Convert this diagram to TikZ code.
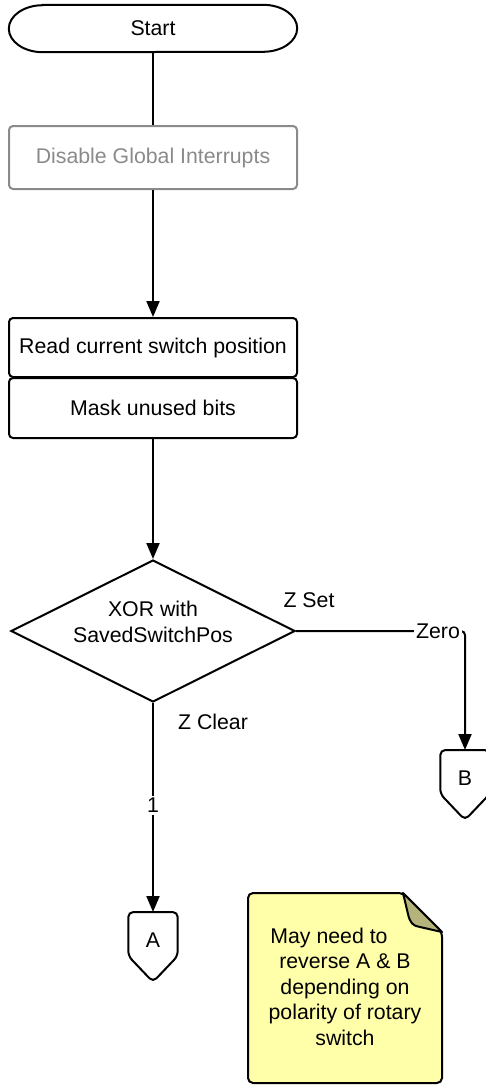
\documentclass[tikz,border=0pt]{standalone}
\usepackage{fontspec}
\setmainfont{Liberation Sans}
\usetikzlibrary{arrows.meta,shapes.geometric,calc}
\definecolor{notefill}{HTML}{FFFFAA}
\definecolor{foldfill}{HTML}{B4B37C}
\definecolor{mutedgray}{HTML}{8A8A8A}
\begin{document}
\begin{tikzpicture}[x=1pt,y=-1pt,
  every node/.style={font=\fontsize{21.3}{25.5}\selectfont},
  line/.style={line width=2pt, draw=black},
  arrow/.style={line, -{Triangle[length=16pt,width=13pt]}},
  procbox/.style={draw, line width=2pt, rounded corners=4pt, minimum width=288pt,
    inner sep=0pt},
  terminal/.style={minimum width=288pt, minimum height=47pt, inner sep=0pt},
  decision/.style={draw, line width=2pt, diamond, minimum width=284pt,
    minimum height=142pt, inner sep=0pt, align=center},
  connbox/.style={minimum width=49pt, minimum height=56pt, inner sep=0pt, anchor=north},
  edgelabel/.style={fill=white, inner sep=2pt}
]
\useasboundingbox (0,0) rectangle (485,1085);

% terminal with elliptical ends
\node[terminal] (start) at (153,28.5) {Start};
\draw[line]
  ($(start.north west)+(34,0)$) -- ($(start.north east)+(-34,0)$)
  arc[start angle=-90, end angle=90, x radius=34, y radius=23.5]
  -- ($(start.south west)+(34,0)$)
  arc[start angle=90, end angle=270, x radius=34, y radius=23.5] -- cycle;

% process steps
\node[procbox, draw=mutedgray, text=mutedgray, minimum height=63pt] (dis) at (153,157.5)
  {Disable Global Interrupts};
\node[procbox, minimum height=59pt] (read) at (153,347.5) {Read current switch position};
\node[procbox, minimum height=60pt] (mask) at (153,408) {Mask unused bits};
\node[decision] (xor) at (153,631) {};
\node (xortext) at (153,622) [align=center] {XOR with\\SavedSwitchPos};

% off-page connectors
\node[connbox] (A) at (153,912) {A};
\node[connbox] (B) at (465,750) {B};
\foreach \c in {A,B}{
  \draw[line, rounded corners=5pt]
    (\c.north west) -- (\c.north east) -- ($(\c.north east)+(0,44)$)
    -- ($(\c.north)+(0,70)$) -- ($(\c.north west)+(0,44)$) -- cycle;
}

% flow
\draw[line] (start.south) -- (dis.north);
\draw[arrow] (dis.south) -- (read.north);
\draw[arrow] (mask.south) -- (xor.north);
\draw[arrow, rounded corners=4pt] (xor.east) -| (B.north)
  node[edgelabel, pos=0.42] {Zero};
\draw[arrow] (xor.south) -- node[edgelabel, pos=0.49] {1} (A.north);
\node (zset) at (309,600) {Z Set};
\node (zclear) at (213,722) {Z Clear};

% note
\draw[line, fill=notefill, rounded corners=5pt]
  (248,893) -- (403,893) -- (442,932) -- (442,1083) -- (248,1083) -- cycle;
\draw[line width=2pt, fill=foldfill, line join=round]
  (403,893) -- (408,914) .. controls (410,923) and (413,926) .. (420,927) -- (442,932) -- cycle;
\node[align=center] (note) at (345,986.5)
  {May need to\hspace*{32pt}\\reverse A \& B\\depending on\\polarity of rotary\\switch};
\end{tikzpicture}
\end{document}
